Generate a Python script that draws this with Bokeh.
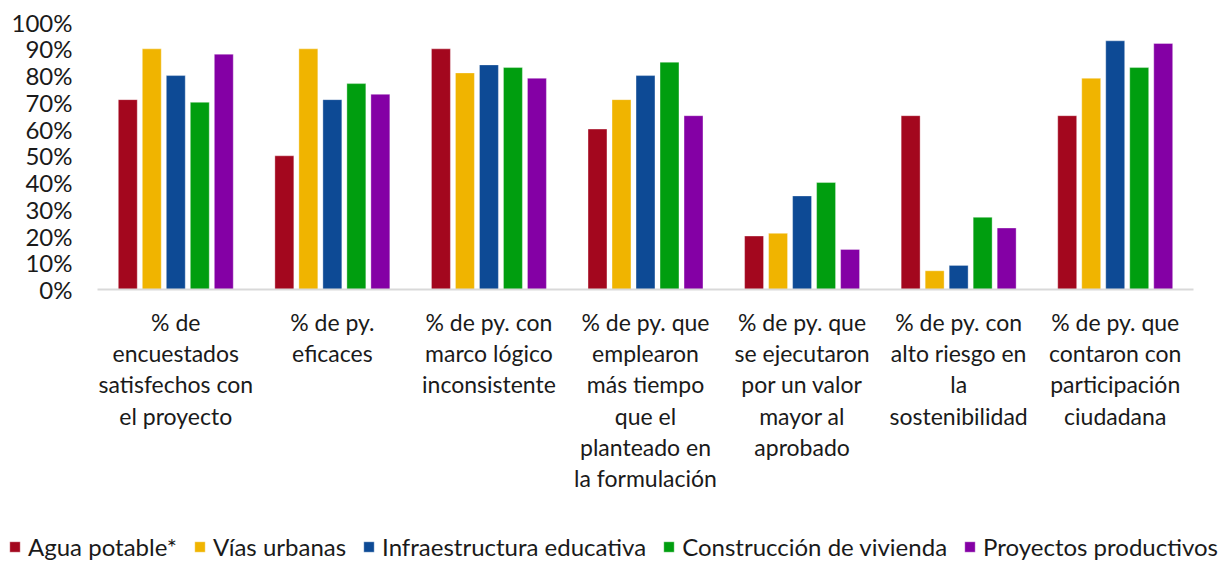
from bokeh.plotting import figure
from bokeh.models import (ColumnDataSource, Range1d, Legend, LegendItem)
from bokeh.transform import dodge
from bokeh.core.properties import value
from bokeh.embed import file_html
from bokeh.resources import INLINE

categories = [
    "% de\nencuestados\nsatisfechos con\nel proyecto",
    "% de py.\neficaces",
    "% de py. con\nmarco lógico\ninconsistente",
    "% de py. que\nemplearon\nmás tiempo\nque el\nplanteado en\nla formulación",
    "% de py. que\nse ejecutaron\npor un valor\nmayor al\naprobado",
    "% de py. con\nalto riesgo en\nla\nsostenibilidad",
    "% de py. que\ncontaron con\nparticipación\nciudadana",
]
agua_potable = [71, 50, 90, 60, 20, 65, 65]
vias_urbanas = [90, 90, 81, 71, 21, 7, 79]
infraestructura_educativa = [80, 71, 84, 80, 35, 9, 93]
construccion_vivienda = [70, 77, 83, 85, 40, 27, 83]
proyectos_productivos = [88, 73, 79, 65, 15, 23, 92]
series_names = ["Agua potable*", "Vías urbanas", "Infraestructura educativa",
                "Construcción de vivienda", "Proyectos productivos"]
colors = ["#A3071E", "#F0B400", "#0D4A95", "#009E0F", "#8400A5"]
y_ticks = [0, 10, 20, 30, 40, 50, 60, 70, 80, 90, 100]
y_tick_labels = [f"{t}%" for t in y_ticks]

FONT = "Lato"
TXT = "#1a1a1a"

n = len(categories)
xpos = [i + 0.5 for i in range(n)]
src = ColumnDataSource(dict(
    x=xpos, cat=categories,
    s0=agua_potable, s1=vias_urbanas, s2=infraestructura_educativa,
    s3=construccion_vivienda, s4=proyectos_productivos,
    zero=[0] * n,
))
tick_src = ColumnDataSource(dict(y=y_ticks, lab=y_tick_labels,
                                 x=[0] * len(y_ticks)))

p = figure(width=1221, height=563, output_backend="svg", toolbar_location=None,
           x_range=Range1d(-0.6195, 7.1788), y_range=Range1d(-102.47, 108.08),
           x_axis_type=None, y_axis_type=None,
           min_border_left=0, min_border_right=0,
           min_border_top=0, min_border_bottom=0)
p.outline_line_color = None
p.grid.visible = False
p.background_fill_color = "white"
p.border_fill_color = "white"

# y tick labels (right-aligned left of the plot area)
p.text(x="x", y="y", text="lab", source=tick_src, text_align="right",
       text_baseline="middle", x_offset=-25, text_font=value(FONT),
       text_font_size="24px", text_color=TXT)

step = 0.1533
bw = 0.121
items = []
for k, (name, col) in enumerate(zip(series_names, colors)):
    r = p.vbar(x=dodge("x", (k - 2) * step, range=p.x_range), top=f"s{k}",
               width=bw, bottom=0, source=src, fill_color=col,
               line_color="white", line_alpha=0.35, line_width=1)
    items.append(LegendItem(label=name, renderers=[r]))

# category axis baseline
p.segment(x0=0, x1=n, y0=0, y1=0, line_color="#d9d9d9", line_width=2)

p.text(x="x", y="zero", text="cat", source=src, text_align="center",
       text_baseline="top", y_offset=18, text_font=value(FONT),
       text_font_size="23px", text_color=TXT, text_line_height=1.12)

legend = Legend(items=items, orientation="horizontal", location=(8, 2),
                border_line_color=None, background_fill_alpha=0,
                padding=0, margin=0, spacing=16, label_standoff=7,
                glyph_width=13, glyph_height=13,
                label_text_font=FONT, label_text_font_size="24px",
                label_text_color=TXT)
p.add_layout(legend)

open("out.html", "w").write(file_html(p, INLINE))
